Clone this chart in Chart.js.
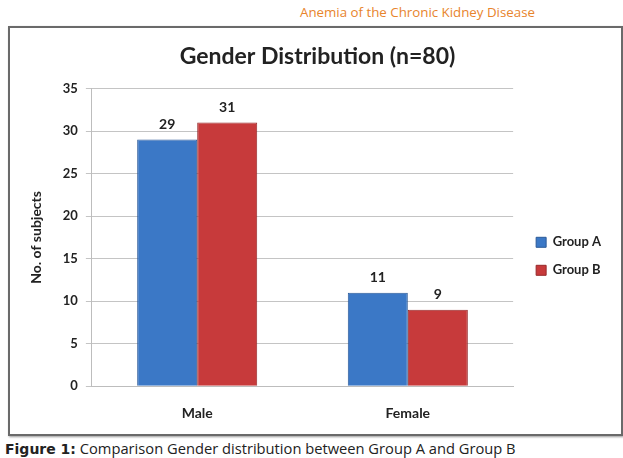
<!DOCTYPE html>
<html>
<head>
<meta charset="utf-8">
<script src="https://cdn.jsdelivr.net/npm/chart.js@4.4.0/dist/chart.umd.min.js"></script>
<style>
  body { margin: 0; background: #fff; width: 623px; height: 458px; position: relative; overflow: hidden; }
  #head { position: absolute; left: 300px; top: 3px; font: 13.3px "Open Sans", sans-serif; color: #e8842c; white-space: nowrap; }
  #box { position: absolute; left: 8px; top: 26px; width: 611px; height: 406px; border: 2px solid #6a6a6a; box-shadow: 1px 1px 2px #999; }
  #caption { position: absolute; left: 5px; top: 438px; font: 14.7px "Open Sans", sans-serif; color: #222; white-space: nowrap; }
  #caption b { font: bold 14px "DejaVu Sans", sans-serif; }
</style>
</head>
<body>
<div id="head">Anemia of the Chronic Kidney Disease</div>
<div id="box"><canvas id="myChart" width="611" height="406"></canvas></div>
<div id="caption"><b>Figure 1:</b> Comparison Gender distribution between Group A and Group B</div>
<script>
var categories = ['Male', 'Female'];
var groupA = [29, 11];
var groupB = [31, 9];
var yTicks = [0, 5, 10, 15, 20, 25, 30, 35];

// value labels on top of every bar
var barValues = {
    id: 'barValues',
    afterDatasetsDraw: function (chart) {
        var c = chart.ctx;
        c.save();
        c.font = 'bold 14px Lato, sans-serif';
        c.fillStyle = '#222';
        c.textAlign = 'center';
        c.textBaseline = 'bottom';
        chart.data.datasets.forEach(function (ds, i) {
            chart.getDatasetMeta(i).data.forEach(function (bar, j) {
                c.fillText(ds.data[j], bar.x, bar.y - 8);
            });
        });
        c.restore();
    }
};

var ctx = document.getElementById('myChart');
var myChart = new Chart(ctx, {
    type: 'bar',
    data: {
        labels: categories,
        datasets: [{
            label: 'Group A',
            data: groupA,
            backgroundColor: '#3b78c6',
            borderColor: '#2c5a98',
            borderWidth: 1
        }, {
            label: 'Group B',
            data: groupB,
            backgroundColor: '#c73a3b',
            borderColor: '#962a2b',
            borderWidth: 1
        }]
    },
    options: {
        responsive: false,
        animation: false,
        layout: { padding: { left: 14, right: 10, top: 5, bottom: 2 } },
        datasets: { bar: { categoryPercentage: 0.57, barPercentage: 1 } },
        plugins: {
            title: {
                display: true,
                text: 'Gender Distribution (n=80)',
                color: '#222',
                font: { family: 'Lato, sans-serif', size: 23, weight: 'bold' },
                padding: { top: 10, bottom: 18 }
            },
            legend: {
                position: 'right',
                title: { display: true, text: ' ', padding: { top: 32, bottom: 0 }, font: { size: 13 } },
                labels: {
                    boxWidth: 10,
                    boxHeight: 10,
                    padding: 15,
                    color: '#222',
                    font: { family: 'Lato, sans-serif', size: 13, weight: 'bold' }
                }
            },
            tooltip: { enabled: false }
        },
        scales: {
            x: {
                grid: { display: false },
                border: { color: '#bdbdbd' },
                ticks: {
                    color: '#222',
                    padding: 10.5,
                    font: { family: 'Lato, sans-serif', size: 14, weight: 'bold' }
                }
            },
            y: {
                min: 0,
                max: 35,
                afterBuildTicks: function (axis) {
                    axis.ticks = yTicks.map(function (v) { return { value: v }; });
                },
                grid: { color: '#c4c4c4', tickLength: 6 },
                border: { color: '#bdbdbd' },
                ticks: {
                    color: '#222',
                    padding: 8,
                    font: { family: 'Lato, sans-serif', size: 13, weight: 'bold' }
                },
                title: {
                    display: true,
                    text: 'No. of subjects',
                    color: '#222',
                    padding: { bottom: 10 },
                    font: { family: 'Lato, sans-serif', size: 14, weight: 'bold' }
                }
            },
            // empty axis that only keeps a gap between the plot and the legend
            gap: {
                type: 'linear',
                position: 'right',
                grid: { display: false },
                border: { display: false },
                ticks: { display: false },
                afterFit: function (axis) { axis.width = 8; }
            }
        }
    },
    plugins: [barValues]
});
</script>
</body>
</html>
